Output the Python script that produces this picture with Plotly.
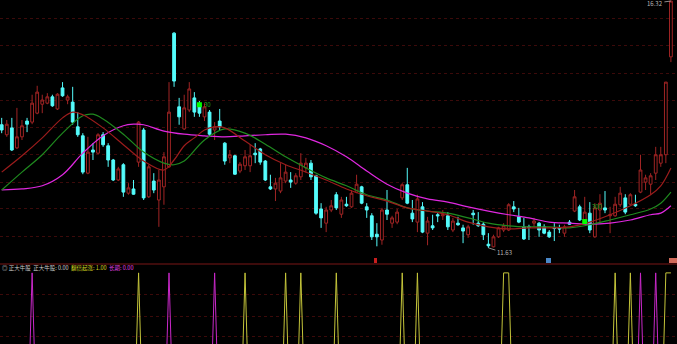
import plotly.graph_objects as go

# ---------------- data ----------------
opens = [13.97,13.78,13.91,13.53,13.74,14.04,14.02,14.19,14.36,14.38,
 14.50,14.27,14.67,14.44,14.40,13.93,13.76,13.05,13.49,13.43,
 13.78,13.57,13.30,12.92,13.21,12.67,12.75,13.26,13.87,12.60,
 12.90,12.54,12.79,13.17,15.71,14.31,13.89,14.25,14.48,14.35,
 14.12,14.21,13.87,14.04,13.62,13.34,13.38,13.09,13.19,13.19,
 13.43,13.51,13.28,12.79,12.75,12.71,12.90,12.92,12.86,12.98,
 13.15,13.24,13.00,12.37,12.10,12.35,12.64,12.27,12.46,12.41,
 12.69,12.79,12.41,12.24,11.89,11.78,12.35,12.10,12.12,12.58,
 12.83,12.29,12.12,12.41,11.91,12.05,12.26,12.24,12.24,11.97,
 12.10,12.01,11.88,12.29,12.10,12.08,11.70,11.65,11.84,11.97,
 11.97,12.41,12.22,12.03,12.03,12.10,12.10,12.03,11.93,12.01,
 12.01,11.91,12.12,12.33,12.41,12.16,12.29,11.84,12.35,12.39,
 12.24,12.24,12.45,12.58,12.46,12.46,12.69,12.88,12.84,13.05,
 13.24,13.40,15.26]
highs = [14.10,14.06,14.10,14.29,14.06,14.10,14.54,14.71,14.54,14.57,
 14.54,14.57,14.78,14.54,14.69,14.21,13.81,13.74,13.62,13.81,
 13.83,13.62,13.32,13.17,13.24,12.86,12.92,14.04,13.91,13.21,
 13.05,13.11,13.45,14.78,15.73,14.48,14.54,14.78,14.59,14.42,
 14.38,14.25,14.02,14.27,13.64,13.49,13.40,13.26,13.49,13.59,
 13.62,13.53,13.30,13.02,12.96,13.24,13.21,13.07,13.05,13.43,
 13.34,13.30,13.02,12.48,12.41,12.54,12.69,12.60,12.60,12.73,
 13.02,12.81,12.48,12.29,12.10,12.39,12.73,12.24,12.37,12.86,
 13.15,12.54,12.64,12.50,12.22,12.26,12.31,12.35,12.31,12.20,
 12.22,12.07,12.07,12.35,12.31,12.12,11.91,11.88,12.03,12.10,
 12.48,12.52,12.39,12.20,12.07,12.20,12.12,12.08,11.97,12.10,
 12.07,12.07,12.16,12.73,12.45,12.60,12.50,12.48,12.65,12.71,
 12.41,12.60,12.79,12.65,12.67,12.64,13.40,13.02,13.05,13.55,
 13.55,14.78,16.32]
lows = [13.81,13.74,13.47,13.51,13.68,13.83,13.98,14.17,14.19,14.36,
 14.31,14.25,14.50,14.36,13.97,13.74,13.03,13.03,13.30,13.41,
 13.55,13.17,12.90,12.90,12.60,12.64,12.64,13.17,12.54,12.58,
 12.67,12.03,12.45,13.15,14.69,13.97,13.87,14.21,14.12,14.12,
 14.04,13.74,13.68,13.87,13.21,13.24,13.02,13.05,13.11,13.07,
 13.24,13.21,12.90,12.73,12.52,12.67,12.86,12.77,12.83,12.92,
 13.07,12.92,12.26,12.01,11.93,12.31,12.35,12.20,12.41,12.39,
 12.67,12.46,12.20,11.78,11.66,11.69,12.16,12.01,12.08,12.54,
 12.46,12.12,11.93,11.91,11.68,11.97,12.12,12.16,11.97,11.93,
 12.05,11.72,11.82,12.07,12.03,11.78,11.63,11.64,11.82,11.93,
 11.95,12.31,12.10,11.78,11.78,12.03,11.84,11.89,11.82,11.76,
 11.91,11.84,12.07,12.31,12.14,12.12,11.91,11.82,12.12,12.29,
 11.91,12.22,12.41,12.27,12.45,12.41,12.67,12.73,12.64,12.92,
 13.17,13.24,15.16]
closes = [13.87,13.98,13.49,13.74,13.95,13.98,14.38,14.59,14.44,14.50,
 14.33,14.55,14.52,14.50,14.02,13.78,13.07,13.45,13.45,13.78,
 13.59,13.30,12.92,13.13,12.69,12.77,12.65,14.02,12.58,13.17,
 12.73,12.92,13.36,14.21,14.80,14.12,14.29,14.65,14.21,14.19,
 14.31,13.79,13.93,13.93,13.28,13.40,13.03,13.22,13.36,13.38,
 13.40,13.26,12.92,12.75,12.86,12.96,13.07,12.88,13.00,13.24,
 13.24,12.98,12.29,12.20,12.35,12.43,12.39,12.54,12.43,12.67,
 12.84,12.48,12.35,11.84,11.84,12.35,12.27,12.20,12.31,12.83,
 12.48,12.18,12.56,11.93,12.14,12.01,12.24,12.26,12.03,12.14,
 12.07,11.95,12.03,12.26,12.05,11.88,11.67,11.84,12.01,12.05,
 12.45,12.37,12.12,11.80,12.02,12.14,11.97,11.91,11.84,12.00,
 11.99,12.03,12.08,12.60,12.16,12.31,11.97,12.39,12.48,12.35,
 12.26,12.46,12.67,12.31,12.64,12.43,13.11,12.96,13.00,13.40,
 13.40,14.78,16.32]
days = list(range(len(closes)))

# moving-average lines
ma_short_idx = [0,4,8,12,14,16,20,24,28,32,34,36,38,40,42,44,48,52,56,60,64,68,72,76,80,84,88,92,96,100,104,108,112,116,120,124,128,130,132]
ma_short = [13.07,13.38,13.72,14.10,14.21,14.16,13.91,13.59,13.28,13.11,13.30,13.57,13.72,13.87,13.93,13.91,13.66,13.40,13.21,13.07,12.92,12.75,12.62,12.52,12.39,12.33,12.26,12.12,12.03,11.99,12.01,12.01,12.03,12.12,12.26,12.43,12.64,12.81,13.15]
ma_mid_idx = [0,4,8,12,16,18,20,24,28,32,34,36,40,44,48,52,56,60,64,68,72,76,80,84,88,92,96,100,104,108,112,116,120,124,128,130,132]
ma_mid = [12.73,13.07,13.40,13.81,14.14,14.17,14.08,13.79,13.45,13.24,13.21,13.28,13.68,13.89,13.81,13.60,13.36,13.15,12.96,12.81,12.64,12.54,12.39,12.33,12.29,12.20,12.10,12.05,12.03,12.03,12.01,12.07,12.16,12.26,12.37,12.48,12.69]
ma_long_idx = [0,4,8,12,16,20,24,26,28,32,36,40,44,48,52,56,60,64,68,72,76,80,84,88,92,96,100,104,108,112,116,120,124,128,130,132]
ma_long = [12.73,12.75,12.81,13.02,13.43,13.76,13.95,13.98,13.97,13.85,13.79,13.76,13.74,13.76,13.78,13.79,13.72,13.57,13.36,13.09,12.84,12.67,12.56,12.50,12.41,12.33,12.26,12.20,12.12,12.10,12.08,12.10,12.16,12.26,12.29,12.43]

# marker signals
mark_idx = [39, 115]
mark_price = [14.35, 12.13]

# lower-panel signals (1 on signal days)
yellow_days = [27, 48, 56, 59, 66, 79, 82, 99, 100, 121, 124, 131, 132]
magenta_days = [6, 33, 42, 126, 129]
yellow_sig = [1 if d in yellow_days else 0 for d in days]
magenta_sig = [1 if d in magenta_days else 0 for d in days]

grid_main = [15.98, 15.47, 14.95, 14.44, 13.92, 13.40, 12.88, 12.37, 11.85]
grid_low = [0.645, 0.757, 0.881]

# ---------------- styles ----------------
RED = "#a02424"
CYAN = "#54fcfc"
MA_RED = "#9c1c1c"
MA_GREEN = "#1f8a1f"
MA_MAG = "#e028e0"
YEL = "#c4c43a"
MAG2 = "#c828c8"
GRID = "#3c0a0a"
W, H = 677, 344
split = 80 / H

fig = go.Figure()
fig.add_trace(go.Candlestick(
    x=days, open=opens, high=highs, low=lows, close=closes,
    increasing=dict(line=dict(color=RED, width=1), fillcolor="black"),
    decreasing=dict(line=dict(color=CYAN, width=1), fillcolor=CYAN),
    whiskerwidth=0, xaxis="x", yaxis="y", showlegend=False, hoverinfo="skip"))
for ix, vals, col in [(ma_long_idx, ma_long, MA_MAG), (ma_mid_idx, ma_mid, MA_GREEN), (ma_short_idx, ma_short, MA_RED)]:
    fig.add_trace(go.Scatter(x=ix, y=vals, mode="lines", line=dict(color=col, width=1.2, shape="spline", smoothing=1.0),
                             xaxis="x", yaxis="y", showlegend=False, hoverinfo="skip"))
fig.add_trace(go.Scatter(x=mark_idx, y=mark_price, mode="markers",
                         marker=dict(symbol="square", size=5, color="#00ff00", line=dict(width=0)),
                         xaxis="x", yaxis="y", showlegend=False, hoverinfo="skip"))
fig.add_trace(go.Scatter(x=days, y=yellow_sig, mode="lines", line=dict(color=YEL, width=1),
                         xaxis="x2", yaxis="y2", showlegend=False, hoverinfo="skip"))
fig.add_trace(go.Scatter(x=days, y=magenta_sig, mode="lines", line=dict(color=MAG2, width=1),
                         xaxis="x2", yaxis="y2", showlegend=False, hoverinfo="skip"))

xr = [-0.335, 133.2]
fig.update_layout(
    width=W, height=H, margin=dict(l=0, r=0, t=0, b=0),
    paper_bgcolor="black", plot_bgcolor="black", boxgap=0.22,
    xaxis=dict(domain=[0, 1], range=xr, showgrid=False, zeroline=False, showticklabels=False,
               rangeslider=dict(visible=False), anchor="y", fixedrange=True),
    xaxis2=dict(domain=[0, 1], range=xr, showgrid=False, zeroline=False, showticklabels=False,
                anchor="y2", matches="x"),
    yaxis=dict(domain=[split, 1], range=[11.324, 16.34], tickvals=grid_main, showticklabels=False,
               gridcolor=GRID, griddash="dot", gridwidth=1, zeroline=False),
    yaxis2=dict(domain=[0, split], range=[0.6, 1.05], tickvals=grid_low, showticklabels=False,
                gridcolor=GRID, griddash="dot", gridwidth=1, zeroline=False),
    font=dict(family="Noto Sans CJK SC, DejaVu Sans", size=6, color="#c0c0c0"),
)

# separator line between panels
fig.add_shape(type="line", xref="paper", yref="paper", x0=0, x1=1, y0=split, y1=split,
              line=dict(color="#7a1616", width=1))

# high / low labels
fig.add_annotation(x=132, y=16.32, xref="x", yref="y", text="16.32", showarrow=True, arrowhead=0,
                   arrowcolor="#b0b0b0", arrowwidth=0.8, ax=-16, ay=2, font=dict(size=6, color="#b8b8b8"))
fig.add_annotation(x=96, y=11.63, xref="x", yref="y", text="11.63", showarrow=True, arrowhead=0,
                   arrowcolor="#b0b0b0", arrowwidth=0.8, ax=16, ay=5, font=dict(size=6, color="#b8b8b8"))
# green marker texts
fig.add_annotation(x=39.5, y=14.35, xref="x", yref="y", text="30", showarrow=False, xanchor="left",
                   font=dict(size=6, color="#20b020"))
fig.add_annotation(x=116, y=12.42, xref="x", yref="y", text="300", showarrow=False, xanchor="left",
                   font=dict(size=6, color="#20b020"))

# lower panel title text
fig.add_annotation(xref="paper", yref="paper", x=0, y=1 - 268 / H, xanchor="left", yanchor="middle",
                   showarrow=False, align="left",
                   text=("◎ 正大牛股  正大牛股: 0.00  <span style='color:#d8d820'>翻倍起涨: 1.00</span>"
                         "  <span style='color:#e040e0'>长期: 0.00</span>"),
                   font=dict(size=5.5, color="#c8c8c8"))

# small signal boxes on the separator
for x0, x1, col in [(374, 377, "#c81e1e"), (546, 551, "#4a88c8"), (669, 677, "#d06a5a")]:
    fig.add_shape(type="rect", xref="paper", yref="paper", x0=x0 / W, x1=x1 / W,
                  y0=1 - 263 / H, y1=1 - 258 / H, line=dict(width=0), fillcolor=col)

fig.write_html("out.html")
